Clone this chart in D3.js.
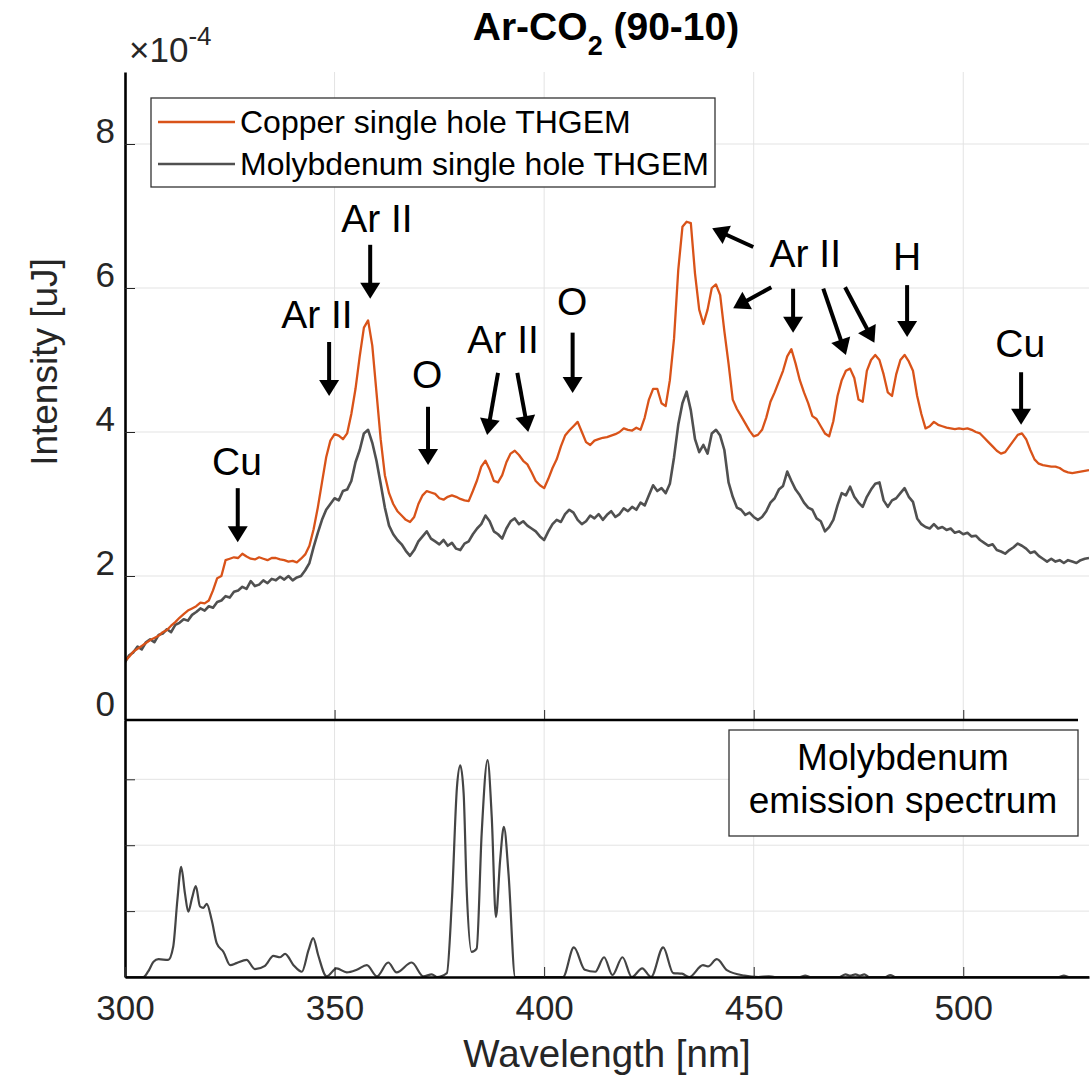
<!DOCTYPE html>
<html>
<head>
<meta charset="utf-8">
<script src="https://cdn.jsdelivr.net/npm/d3@7"></script>
<style>
  body { margin: 0; background: #fff; }
  svg { display: block; font-family: "Liberation Sans", Arial, sans-serif; }
</style>
</head>
<body>
<svg id="chart" width="1092" height="1079"></svg>
<script>
// wavelength grid of the two measured spectra (nm)
const wavelengths = [
  300,301,302,303,304,305,306,307,308,309,310,311,312,313,314,315,316,317,318,319,
  320,321,322,323,324,325,326,327,328,329,330,331,332,333,334,335,336,337,338,339,
  340,341,342,343,344,345,346,347,348,349,350,351,352,353,354,355,356,357,358,359,
  360,361,362,363,364,365,366,367,368,369,370,371,372,373,374,375,376,377,378,379,
  380,381,382,383,384,385,386,387,388,389,390,391,392,393,394,395,396,397,398,399,
  400,401,402,403,404,405,406,407,408,409,410,411,412,413,414,415,416,417,418,419,
  420,421,422,423,424,425,426,427,428,429,430,431,432,433,434,435,436,437,438,439,
  440,441,442,443,444,445,446,447,448,449,450,451,452,453,454,455,456,457,458,459,
  460,461,462,463,464,465,466,467,468,469,470,471,472,473,474,475,476,477,478,479,
  480,481,482,483,484,485,486,487,488,489,490,491,492,493,494,495,496,497,498,499,
  500,501,502,503,504,505,506,507,508,509,510,511,512,513,514,515,516,517,518,519,
  520,521,522,523,524,525,526,527,528,529,530];

// intensity in units of 1e-4 uJ
const copper = [
  0.82,0.88,0.95,0.99,1.03,1.07,1.11,1.14,1.17,1.22,1.25,1.31,1.36,1.42,1.47,1.52,1.55,1.58,1.63,1.62,
  1.66,1.80,1.97,2.00,2.22,2.24,2.26,2.25,2.31,2.27,2.24,2.23,2.26,2.24,2.22,2.25,2.25,2.23,2.22,2.20,
  2.21,2.19,2.24,2.30,2.42,2.65,2.95,3.30,3.65,3.88,3.97,3.95,3.90,3.98,4.25,4.60,5.05,5.45,5.55,5.20,
  4.55,3.90,3.40,3.15,3.00,2.90,2.84,2.78,2.75,2.82,3.00,3.12,3.18,3.16,3.14,3.08,3.06,3.10,3.12,3.10,
  3.07,3.05,3.04,3.18,3.33,3.52,3.60,3.48,3.32,3.30,3.40,3.58,3.70,3.74,3.68,3.60,3.55,3.44,3.32,3.26,
  3.22,3.35,3.50,3.62,3.80,3.95,4.02,4.08,4.14,4.00,3.86,3.82,3.88,3.90,3.92,3.93,3.95,3.97,4.00,4.05,
  4.03,4.02,4.06,4.03,4.20,4.45,4.60,4.60,4.40,4.36,4.72,5.30,6.25,6.85,6.92,6.90,6.20,5.70,5.50,5.70,
  6.00,6.05,5.90,5.40,4.95,4.45,4.32,4.22,4.12,4.02,3.94,3.96,4.03,4.20,4.42,4.55,4.70,4.85,5.05,5.15,
  4.95,4.72,4.55,4.40,4.22,4.18,4.08,3.98,3.94,4.15,4.50,4.72,4.85,4.88,4.75,4.45,4.42,4.85,5.00,5.07,
  5.00,4.80,4.55,4.50,4.80,5.00,5.07,4.98,4.85,4.50,4.25,4.05,4.08,4.14,4.10,4.08,4.06,4.05,4.04,4.05,
  4.04,4.05,4.03,4.00,3.98,3.92,3.86,3.80,3.74,3.70,3.72,3.80,3.88,3.96,3.98,3.90,3.75,3.62,3.56,3.54,
  3.53,3.52,3.52,3.50,3.46,3.44,3.43,3.44,3.45,3.46,3.47];

const molybdenum = [
  0.80,0.90,0.94,1.02,0.98,1.08,1.12,1.08,1.18,1.20,1.26,1.22,1.32,1.35,1.40,1.38,1.46,1.50,1.55,1.52,
  1.58,1.56,1.64,1.66,1.72,1.70,1.78,1.80,1.85,1.82,1.93,1.86,1.88,1.94,1.90,1.96,1.94,1.99,1.95,2.00,
  1.94,1.98,2.00,2.08,2.18,2.40,2.60,2.78,2.92,3.00,3.08,3.05,3.18,3.20,3.32,3.58,3.75,3.98,4.03,3.85,
  3.60,3.28,2.95,2.70,2.58,2.50,2.44,2.35,2.28,2.36,2.48,2.55,2.62,2.52,2.48,2.44,2.50,2.42,2.46,2.38,
  2.36,2.45,2.48,2.58,2.66,2.72,2.84,2.76,2.62,2.58,2.52,2.66,2.76,2.80,2.72,2.76,2.70,2.66,2.62,2.55,
  2.50,2.62,2.72,2.78,2.75,2.86,2.92,2.88,2.78,2.72,2.76,2.84,2.80,2.86,2.78,2.85,2.90,2.82,2.86,2.94,
  2.90,2.96,2.92,3.02,2.98,3.12,3.26,3.18,3.22,3.15,3.28,3.65,4.10,4.40,4.56,4.30,3.90,3.72,3.82,3.70,
  3.98,4.03,3.95,3.75,3.30,3.10,2.95,2.92,2.85,2.88,2.82,2.78,2.82,2.90,3.02,3.08,3.20,3.25,3.45,3.32,
  3.20,3.12,3.02,2.95,2.92,2.80,2.76,2.62,2.68,2.78,2.98,3.15,3.12,3.24,3.10,3.02,2.96,3.10,3.20,3.28,
  3.30,3.05,2.96,3.05,3.08,3.15,3.22,3.10,3.03,2.80,2.72,2.68,2.66,2.72,2.66,2.68,2.64,2.66,2.60,2.62,
  2.58,2.60,2.55,2.56,2.50,2.46,2.42,2.44,2.36,2.34,2.31,2.36,2.40,2.45,2.42,2.38,2.32,2.34,2.28,2.24,
  2.20,2.24,2.20,2.22,2.18,2.22,2.20,2.18,2.22,2.24,2.25];

// reference emission spectrum of molybdenum (arbitrary units)
const moWave = [300,304.4,305.5,306.8,308,310.3,311.5,312.5,313.4,314.3,315.1,316,316.9,317.9,318.7,319.5,320.7,321.9,323.5,325.1,
  326.6,329,331,333.4,335.4,337,338.2,340.2,342.2,343.8,344.9,346.1,348.1,350.5,352.9,355.3,357.7,360.1,362.8,364.8,
  368.4,371.2,373.2,374.4,376.8,378,379.2,380,380.8,381.5,382.7,383.9,385.1,386.5,387.5,388.5,389.5,390.4,391.5,393.1,
  404.5,407.1,409.7,412.2,414.3,416.3,418.7,420.9,423.4,425.5,428.4,430.8,432.9,434.6,437.9,439.1,441.2,443.7,447.8,451.1,
  453.6,455,461,462.3,463.5,470.5,471.9,473,474.3,475.3,476.4,477.5,481.4,482.6,483.8,522.8,524,525.2,530];
const moValue = [0,0,0.08,0.23,0.27,0.26,0.46,1.17,1.67,1.27,0.99,1.2,1.38,1.07,1.05,1.11,0.86,0.51,0.38,0.18,
  0.21,0.26,0.12,0.17,0.32,0.30,0.35,0.18,0.08,0.41,0.59,0.33,0.01,0.13,0.07,0.11,0.18,0.01,0.22,0.07,
  0.22,0.01,0.04,0,0.06,1.17,2.88,3.21,2.78,1.37,0.38,0.43,2.18,3.29,2.43,0.91,1.77,2.28,1.57,0,
  0,0.45,0.11,0.08,0.3,0.03,0.3,0,0.13,0,0.45,0.06,0.05,0,0.18,0.16,0.27,0.1,0.02,0,
  0.01,0,0,0.02,0,0,0.04,0.02,0.04,0.02,0.04,0,0,0.03,0,0,0.02,0,0];

const seriesNames = ['Copper single hole THGEM', 'Molybdenum single hole THGEM'];
const xTicks = [300, 350, 400, 450, 500];
const yTicks = [0, 2, 4, 6, 8];

// line annotations (text anchor in data coords)
const annLabels = ['Cu', 'Ar II', 'Ar II', 'O', 'Ar II', 'O', 'Ar II', 'H', 'Cu'];
const annX = [326.7, 345.8, 360.1, 372.1, 390.2, 406.7, 462.3, 486.6, 513.6];
const annY = [3.40, 5.44, 6.78, 4.61, 5.10, 5.63, 6.29, 6.25, 5.04];
const arrowFrom = [[326.9,3.22],[348.7,5.25],[358.5,6.6],[372.3,4.35],[389.0,4.82],[393.6,4.82],[406.8,5.38],
  [449.9,6.57],[454.2,6.01],[459.4,5.99],[466.6,5.99],[471.8,6.01],[486.6,6.04],[513.8,4.83]];
const arrowTo = [[326.9,2.47],[348.7,4.5],[358.5,5.85],[372.3,3.54],[386.4,3.96],[396.2,4.0],[406.8,4.54],
  [440.1,6.83],[445.1,5.72],[459.4,5.38],[472.0,5.07],[478.8,5.24],[486.6,5.32],[513.8,4.1]];

const orange = '#D95319';
const grey = '#505050';
const textCol = '#262626';
const gridCol = '#e3e3e3';

const svg = d3.select('#chart');

const x = d3.scaleLinear().domain([300, 530]).range([125, 1089]);
const yTop = d3.scaleLinear().domain([0, 9]).range([720, 72]);
const yBot = d3.scaleLinear().domain([0, 3.9]).range([977, 720]);

// grids
const grid = svg.append('g');
[350, 400, 450, 500].forEach(v => {
  grid.append('line').attr('x1', x(v)).attr('x2', x(v)).attr('y1', yTop(9)).attr('y2', yBot(0))
    .attr('stroke', gridCol).attr('stroke-width', 1);
});
[2, 4, 6, 8].forEach(v => {
  grid.append('line').attr('x1', x(300)).attr('x2', x(530)).attr('y1', yTop(v)).attr('y2', yTop(v))
    .attr('stroke', gridCol).attr('stroke-width', 1);
});
[1, 2, 3].forEach(v => {
  grid.append('line').attr('x1', x(300)).attr('x2', x(530)).attr('y1', yBot(v)).attr('y2', yBot(v))
    .attr('stroke', gridCol).attr('stroke-width', 1);
});

// clip for the top panel
svg.append('clipPath').attr('id', 'clipTop').append('rect')
  .attr('x', x(300)).attr('y', yTop(9)).attr('width', x(530) - x(300)).attr('height', yTop(0) - yTop(9));

const line = d3.line().x(d => x(d[0])).y(d => yTop(d[1]));
const plot = svg.append('g').attr('clip-path', 'url(#clipTop)');
plot.append('path').datum(wavelengths.map((w, i) => [w, molybdenum[i]]))
  .attr('d', line).attr('fill', 'none').attr('stroke', grey).attr('stroke-width', 2.6)
  .attr('stroke-linejoin', 'round');
plot.append('path').datum(wavelengths.map((w, i) => [w, copper[i]]))
  .attr('d', line).attr('fill', 'none').attr('stroke', orange).attr('stroke-width', 2.3)
  .attr('stroke-linejoin', 'round');

// molybdenum emission spectrum (bottom panel)
const moLine = d3.line().x(d => x(d[0])).y(d => yBot(d[1])).curve(d3.curveMonotoneX);
svg.append('path').datum(moWave.map((w, i) => [w, moValue[i]]))
  .attr('d', moLine).attr('fill', 'none').attr('stroke', '#444').attr('stroke-width', 2.2);

// axes
const yAxisTop = svg.append('g').attr('transform', `translate(${x(300)},0)`)
  .call(d3.axisLeft(yTop).tickValues(yTicks).tickSizeInner(-10).tickSizeOuter(0).tickPadding(10));
yAxisTop.select('.domain').attr('stroke', '#000').attr('stroke-width', 2.6);
yAxisTop.selectAll('.tick line').attr('stroke', textCol);
yAxisTop.selectAll('.tick text').attr('font-size', 35).attr('fill', textCol)
  .attr('font-family', 'Liberation Sans, Arial, sans-serif').attr('dy', d => d === 0 ? '-5' : '-2');

const yAxisBot = svg.append('g').attr('transform', `translate(${x(300)},0)`)
  .call(d3.axisLeft(yBot).tickValues([1, 2, 3]).tickSizeInner(-10).tickSizeOuter(0).tickFormat(''));
yAxisBot.select('.domain').attr('stroke', '#000').attr('stroke-width', 2.6);
yAxisBot.selectAll('.tick line').attr('stroke', textCol);

const xAxisMid = svg.append('g').attr('transform', `translate(0,${yTop(0)})`)
  .call(d3.axisBottom(x).tickValues([350, 400, 450, 500]).tickSizeInner(-10).tickSizeOuter(0).tickFormat(''));
xAxisMid.select('.domain').remove();
xAxisMid.selectAll('.tick line').attr('stroke', textCol);
svg.append('line').attr('x1', x(300)).attr('x2', 1078).attr('y1', yTop(0)).attr('y2', yTop(0))
  .attr('stroke', '#000').attr('stroke-width', 2.6);

const xAxis = svg.append('g').attr('transform', `translate(0,${yBot(0)})`)
  .call(d3.axisBottom(x).tickValues(xTicks).tickSizeInner(-10).tickSizeOuter(0).tickPadding(0));
xAxis.select('.domain').attr('stroke', '#000').attr('stroke-width', 2.6);
xAxis.selectAll('.tick line').attr('stroke', textCol);
xAxis.selectAll('.tick text').attr('font-size', 35).attr('fill', textCol)
  .attr('font-family', 'Liberation Sans, Arial, sans-serif').attr('y', 43).attr('dy', 0);

// axis labels
svg.append('text').attr('x', (x(300) + x(530)) / 2).attr('y', 1067).attr('text-anchor', 'middle')
  .attr('font-size', 38.5).attr('fill', textCol).text('Wavelength [nm]');
svg.append('text').attr('transform', 'translate(57,362) rotate(-90)')
  .attr('text-anchor', 'middle').attr('font-size', 37).attr('fill', textCol).text('Intensity [uJ]');

// exponent
const expo = svg.append('text').attr('x', 129).attr('y', 62).attr('font-size', 35).attr('fill', textCol);
expo.append('tspan').text('\u00d710');
expo.append('tspan').attr('font-size', 26).attr('dy', -17).text('-4');

// title
const title = svg.append('text').attr('x', 606).attr('y', 40).attr('text-anchor', 'middle')
  .attr('font-size', 39).attr('font-weight', 'bold').attr('fill', '#000');
title.append('tspan').text('Ar-CO');
title.append('tspan').attr('font-size', 27).attr('dy', 15).text('2');
title.append('tspan').attr('dy', -15).text(' (90-10)');

// legend
const leg = svg.append('g');
leg.append('rect').attr('x', 151).attr('y', 98).attr('width', 564).attr('height', 89)
  .attr('fill', '#fff').attr('stroke', '#333').attr('stroke-width', 1.3);
[orange, grey].forEach((c, i) => {
  leg.append('line').attr('x1', 158).attr('x2', 235).attr('y1', 122 + i * 42).attr('y2', 122 + i * 42)
    .attr('stroke', c).attr('stroke-width', i === 0 ? 2.3 : 2.6);
  leg.append('text').attr('x', 240).attr('y', 133 + i * 42).attr('font-size', 32).attr('fill', '#000')
    .text(seriesNames[i]);
});

// molybdenum box
const moBox = svg.append('g');
moBox.append('rect').attr('x', 729).attr('y', 730).attr('width', 349).attr('height', 106)
  .attr('fill', '#fff').attr('stroke', '#333').attr('stroke-width', 1.3);
moBox.append('text').attr('x', 903).attr('y', 770).attr('text-anchor', 'middle').attr('font-size', 37)
  .attr('fill', '#000').text('Molybdenum');
moBox.append('text').attr('x', 903).attr('y', 813).attr('text-anchor', 'middle').attr('font-size', 37)
  .attr('fill', '#000').text('emission spectrum');

// annotations
const ann = svg.append('g');
annLabels.forEach((t, i) => {
  ann.append('text').attr('x', x(annX[i])).attr('y', yTop(annY[i])).attr('text-anchor', 'middle')
    .attr('font-size', 39).attr('fill', '#000').text(t);
});
arrowFrom.forEach((f, i) => {
  const x0 = x(f[0]), y0 = yTop(f[1]);
  const x1 = x(arrowTo[i][0]), y1 = yTop(arrowTo[i][1]);
  const len = Math.hypot(x1 - x0, y1 - y0);
  const ux = (x1 - x0) / len, uy = (y1 - y0) / len;
  const hl = 16, hw = 10;
  const bx = x1 - ux * hl, by = y1 - uy * hl;
  ann.append('line').attr('x1', x0).attr('y1', y0).attr('x2', bx + ux).attr('y2', by + uy)
    .attr('stroke', '#000').attr('stroke-width', 4);
  ann.append('path')
    .attr('d', `M${x1},${y1}L${bx - uy * hw},${by + ux * hw}L${bx + uy * hw},${by - ux * hw}Z`)
    .attr('fill', '#000');
});
</script>
</body>
</html>
